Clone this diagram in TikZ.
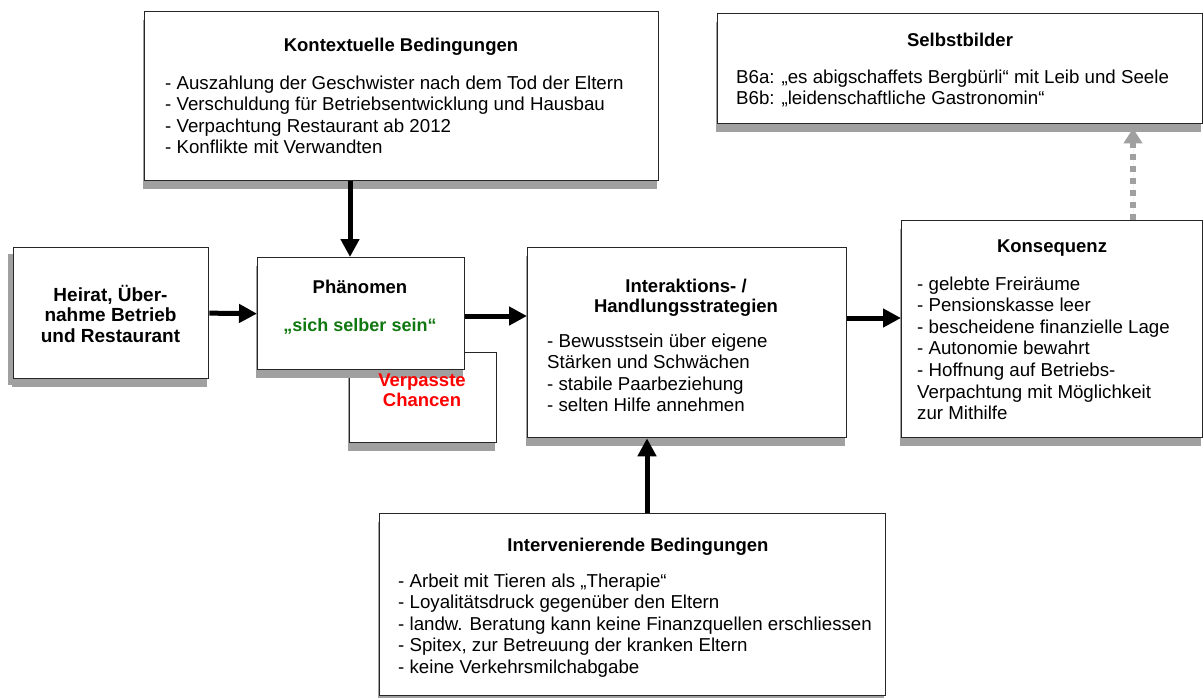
\documentclass[tikz,border=0pt]{standalone}
\usepackage{fontspec}
\setmainfont{Liberation Sans}
\usetikzlibrary{arrows.meta,shadows,calc}
\definecolor{shade}{HTML}{A0A0A0}
\definecolor{leaf}{HTML}{107810}
\definecolor{signal}{HTML}{FF0000}
\begin{document}
\begin{tikzpicture}[x=1pt,y=-1pt,
  box/.style={draw=black!85, line width=1.3pt, fill=white, inner sep=0pt, anchor=north west,
    drop shadow={shadow xshift=-2pt, shadow yshift=-8pt, fill=shade, opacity=1}},
  leftbox/.style={box, drop shadow={shadow xshift=-6pt, shadow yshift=-6pt, fill=shade, opacity=1}},
  txt/.style={inner sep=0pt, font=\fontsize{18.7}{21.6}\selectfont},
  ttl/.style={txt, anchor=base, font=\fontsize{18.5}{20.4}\selectfont\bfseries},
  body/.style={txt, anchor=base west},
  arr/.style={line width=5pt, -{Triangle[length=18pt,width=18pt]}},
  darr/.style={line width=6pt, draw=shade, dash pattern=on 6pt off 6pt,
    -{Triangle[length=15pt,width=18pt]}, fill=shade}
]
\useasboundingbox (0,0) rectangle (1204,697);

% boxes
\node[box, minimum width=514pt, minimum height=169pt] (kon) at (144,11) {};
\node[box, minimum width=485pt, minimum height=110pt] (sel) at (717,13) {};
\node[leftbox, minimum width=195pt, minimum height=131pt] (hei) at (13,247) {};
\node[box, minimum width=147pt, minimum height=90pt] (verp) at (349,352) {};
\node[box, minimum width=207pt, minimum height=112pt] (phae) at (257,257) {};
\node[box, minimum width=319pt, minimum height=190pt] (inter) at (527,247) {};
\node[box, minimum width=301pt, minimum height=217pt] (konsq) at (901,220) {};
\node[box, minimum width=506pt, minimum height=182pt] (intv) at (379,513) {};

% connectors
\draw[arr] (hei.east) -- (phae.west);
\draw[arr] (phae.east |- 0,316) -- (inter.west |- 0,316);
\draw[arr] (inter.east |- 0,318) -- (konsq.west |- 0,318);
\draw[arr] (kon.south -| 350,0) -- (phae.north -| 350,0);
\draw[arr] (intv.north -| 647,0) -- (inter.south -| 647,0);
\draw[darr] (konsq.north -| 1133,0) -- ($(sel.south -| 1133,0)+(0,4)$);

% Kontextuelle Bedingungen
\node[ttl] (konT) at (401,51) {Kontextuelle Bedingungen};
\node[body] (konB) at (165,89) {\begin{tabular}[t]{@{}l@{}}
- Auszahlung der Geschwister nach dem Tod der Eltern\\
- Verschuldung für Betriebsentwicklung und Hausbau\\
- Verpachtung Restaurant ab 2012\\
- Konflikte mit Verwandten\end{tabular}};

% Selbstbilder
\node[ttl] (selT) at (960,46) {Selbstbilder};
\node[body] (selB) at (736,83) {\fontsize{18.7}{21}\selectfont\begin{tabular}[t]{@{}l@{}}
B6a: „es abigschaffets Bergbürli“ mit Leib und Seele\\
B6b: „leidenschaftliche Gastronomin“\end{tabular}};

% Heirat
\node[txt, anchor=base, font=\fontsize{19}{20.5}\selectfont\bfseries] (heiT) at (110.5,301) {\begin{tabular}[t]{@{}c@{}}
Heirat, Über-\\ nahme Betrieb\\ und Restaurant\end{tabular}};

% Phänomen
\node[ttl] (phaeT) at (360,293) {Phänomen};
\node[ttl, font=\fontsize{18}{20}\selectfont\bfseries, text=leaf] (phaeS) at (360,331) {„sich selber sein“};

% Verpasste Chancen
\node[ttl, text=signal] (verpT) at (422,386) {\begin{tabular}[t]{@{}c@{}}
Verpasste\\ Chancen\end{tabular}};

% Interaktions- / Handlungsstrategien
\node[ttl] (interT) at (686,292) {\begin{tabular}[t]{@{}c@{}}
Interaktions- /\\ Handlungsstrategien\end{tabular}};
\node[body] (interB) at (547,347) {\begin{tabular}[t]{@{}l@{}}
- Bewusstsein über eigene\\
Stärken und Schwächen\\
- stabile Paarbeziehung\\
- selten Hilfe annehmen\end{tabular}};

% Konsequenz
\node[ttl] (konsqT) at (1052,252) {Konsequenz};
\node[body] (konsqB) at (917,290) {\begin{tabular}[t]{@{}l@{}}
- gelebte Freiräume\\
- Pensionskasse leer\\
- bescheidene finanzielle Lage\\
- Autonomie bewahrt\\
- Hoffnung auf Betriebs-\\
Verpachtung mit Möglichkeit\\
zur Mithilfe\end{tabular}};

% Intervenierende Bedingungen
\node[ttl] (intvT) at (638,551) {Intervenierende Bedingungen};
\node[body] (intvB) at (398,587) {\begin{tabular}[t]{@{}l@{}}
- Arbeit mit Tieren als „Therapie“\\
- Loyalitätsdruck gegenüber den Eltern\\
- landw. Beratung kann keine Finanzquellen erschliessen\\
- Spitex, zur Betreuung der kranken Eltern\\
- keine Verkehrsmilchabgabe\end{tabular}};
\end{tikzpicture}
\end{document}
